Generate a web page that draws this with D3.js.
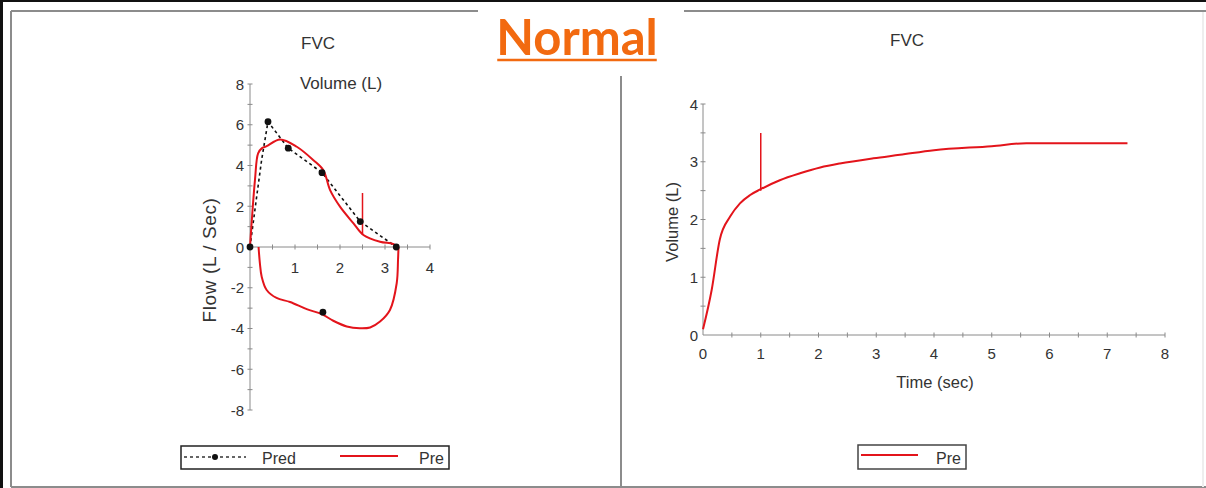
<!DOCTYPE html>
<html>
<head>
<meta charset="utf-8">
<script src="https://cdn.jsdelivr.net/npm/d3@7"></script>
<style>
  body { margin: 0; background: #fff; }
  text { font-family: "Liberation Sans", Arial, sans-serif; fill: #333; }
</style>
</head>
<body>
<div id="chart"></div>
<script>
// ---- data ----
// flow-volume loop, predicted (dotted) line
var predLineVolume = [0, 0.15, 0.26, 0.4, 0.85, 1.6, 2.45, 3.25];
var predLineFlow   = [0, 2.5, 4.3, 6.15, 4.85, 3.65, 1.25, 0];
// predicted markers (last one is the inspiratory point)
var predDotVolume = [0, 0.4, 0.85, 1.6, 2.45, 3.25, 1.62];
var predDotFlow   = [0, 6.15, 4.85, 3.65, 1.25, 0, -3.2];
// measured loop, expiratory part
var preExpVolume = [0, 0.11, 0.18, 0.26, 0.37, 0.67, 1.04, 1.41, 1.63, 1.78, 2.0, 2.3, 2.52, 2.89, 3.18, 3.3];
var preExpFlow   = [0, 3.28, 4.6, 4.84, 4.95, 5.28, 4.92, 4.26, 3.77, 2.79, 1.98, 1.16, 0.59, 0.26, 0.15, 0];
// measured loop, inspiratory part
var preInsVolume = [3.3, 3.29, 3.26, 3.11, 2.89, 2.67, 2.44, 2.15, 1.85, 1.6, 1.26, 0.89, 0.59, 0.37, 0.26, 0.22, 0.19];
var preInsFlow   = [0, -0.6, -1.78, -3.09, -3.66, -3.95, -3.99, -3.9, -3.62, -3.3, -3.05, -2.7, -2.5, -2.11, -1.46, -0.8, 0];
// FEV1 marker on the loop
var loopMarkVolume = 2.5, loopMarkFlow = [0.6, 2.65];

// volume-time curve
var timeSec  = [0, 0.15, 0.29, 0.47, 0.64, 0.81, 0.99, 1.33, 1.68, 2.03, 2.37, 2.95, 3.41, 4, 5, 5.6, 6.5, 7.35];
var volumeL  = [0.1, 0.78, 1.65, 2.05, 2.28, 2.42, 2.52, 2.68, 2.8, 2.9, 2.97, 3.06, 3.12, 3.2, 3.27, 3.32, 3.32, 3.32];
var timeMark = 1, timeMarkVolume = [2.5, 3.5];

var flowTicks = [-8, -6, -4, -2, 0, 2, 4, 6, 8];
var loopVolTicks = [1, 2, 3, 4];
var timeTicks = [0, 1, 2, 3, 4, 5, 6, 7, 8];
var volTicks = [0, 1, 2, 3, 4];

var red = "#e3141b", axisGrey = "#8a8a8a";

var svg = d3.select("#chart").append("svg")
    .attr("width", 1206).attr("height", 488);

// ---- frame ----
svg.append("rect").attr("x", 0).attr("y", 0).attr("width", 1206).attr("height", 2).attr("fill", "#111");
svg.append("rect").attr("x", 0).attr("y", 0).attr("width", 3).attr("height", 488).attr("fill", "#111");
var frame = svg.append("g").attr("stroke", "#8c8c8c").attr("stroke-width", 2).attr("fill", "none");
frame.append("line").attr("x1", 11).attr("x2", 478).attr("y1", 11).attr("y2", 11);
frame.append("line").attr("x1", 684).attr("x2", 1206).attr("y1", 11).attr("y2", 11);
frame.append("line").attr("x1", 11).attr("x2", 11).attr("y1", 11).attr("y2", 487);
frame.append("line").attr("x1", 11).attr("x2", 1206).attr("y1", 487).attr("y2", 487);
frame.append("line").attr("x1", 621).attr("x2", 621).attr("y1", 76).attr("y2", 487);
frame.append("line").attr("x1", 1203).attr("x2", 1203).attr("y1", 12).attr("y2", 487).attr("stroke", "#eee");

// title
var title = svg.append("text").attr("x", 577).attr("y", 55).attr("text-anchor", "middle")
    .style("font-family", "Lato, 'Open Sans', sans-serif").style("font-weight", "bold")
    .style("font-size", "49px").style("fill", "#f26a10").text("Normal");
var tb = title.node().getBBox();
svg.append("line").attr("x1", tb.x + 1).attr("x2", tb.x + tb.width - 1)
    .attr("y1", 60).attr("y2", 60).attr("stroke", "#f26a10").attr("stroke-width", 2.5);

// helper for a cross-style axis with minor ticks
function drawTicks(g, scale, values, orient, len) {
  values.forEach(function(v) {
    var p = scale(v);
    if (orient === "v") g.append("line").attr("x1", -len).attr("x2", len).attr("y1", p).attr("y2", p);
    else g.append("line").attr("y1", -len).attr("y2", len).attr("x1", p).attr("x2", p);
  });
}

// ---- left chart: flow-volume loop ----
var xL = d3.scaleLinear().domain([0, 4]).range([250, 430]);
var yL = d3.scaleLinear().domain([-8, 8]).range([410, 84]);

var axL = svg.append("g").attr("stroke", axisGrey).attr("stroke-width", 1);
axL.append("line").attr("x1", xL(0)).attr("x2", xL(0)).attr("y1", yL(8)).attr("y2", yL(-8));
axL.append("line").attr("x1", xL(0)).attr("x2", xL(4)).attr("y1", yL(0)).attr("y2", yL(0));
drawTicks(axL.append("g").attr("transform", "translate(" + xL(0) + ",0)"), yL, d3.range(-8, 8.1, 1), "v", 2.5);
drawTicks(axL.append("g").attr("transform", "translate(0," + yL(0) + ")"), xL, d3.range(0.5, 4.1, 0.5), "h", 2.5);

svg.append("g").selectAll("text").data(flowTicks).join("text")
    .attr("x", xL(0) - 6).attr("y", function(d) { return yL(d) + 5.5; })
    .attr("text-anchor", "end").style("font-size", "15px").text(function(d) { return d; });
svg.append("g").selectAll("text").data(loopVolTicks).join("text")
    .attr("x", function(d) { return xL(d); }).attr("y", yL(0) + 26)
    .attr("text-anchor", "middle").style("font-size", "15px").text(function(d) { return d; });

svg.append("text").attr("x", 318).attr("y", 49).attr("text-anchor", "middle").style("font-size", "17px").text("FVC");
svg.append("text").attr("x", 341).attr("y", 89).attr("text-anchor", "middle").style("font-size", "17px").text("Volume (L)");
svg.append("text").attr("transform", "translate(216,260) rotate(-90)").attr("text-anchor", "middle")
    .style("font-size", "19px").style("letter-spacing", "0.6px").text("Flow (L / Sec)");

var lineL = d3.line().x(function(d) { return xL(d[0]); }).y(function(d) { return yL(d[1]); });
svg.append("path").datum(d3.zip(predLineVolume, predLineFlow))
    .attr("d", lineL).attr("fill", "none").attr("stroke", "#111").attr("stroke-width", 1.6)
    .attr("stroke-dasharray", "3,3");
svg.append("path").datum(d3.zip(preExpVolume, preExpFlow))
    .attr("d", lineL.curve(d3.curveCatmullRom)).attr("fill", "none").attr("stroke", red).attr("stroke-width", 2);
svg.append("path").datum(d3.zip(preInsVolume, preInsFlow))
    .attr("d", lineL.curve(d3.curveCatmullRom)).attr("fill", "none").attr("stroke", red).attr("stroke-width", 2);
svg.append("line").attr("x1", xL(loopMarkVolume)).attr("x2", xL(loopMarkVolume))
    .attr("y1", yL(loopMarkFlow[0])).attr("y2", yL(loopMarkFlow[1])).attr("stroke", red).attr("stroke-width", 1.5);
svg.append("g").selectAll("circle").data(d3.zip(predDotVolume, predDotFlow)).join("circle")
    .attr("cx", function(d) { return xL(d[0]); }).attr("cy", function(d) { return yL(d[1]); })
    .attr("r", 3.4).attr("fill", "#111");

// left legend
var legL = svg.append("g");
legL.append("rect").attr("x", 181).attr("y", 446).attr("width", 268).attr("height", 23)
    .attr("fill", "#fff").attr("stroke", "#222").attr("stroke-width", 1.5);
legL.append("line").attr("x1", 184).attr("x2", 246).attr("y1", 457).attr("y2", 457)
    .attr("stroke", "#333").attr("stroke-width", 1.5).attr("stroke-dasharray", "3,3");
legL.append("circle").attr("cx", 215).attr("cy", 457).attr("r", 3).attr("fill", "#111");
legL.append("text").attr("x", 262).attr("y", 464).style("font-size", "16px").text("Pred");
legL.append("line").attr("x1", 340).attr("x2", 398).attr("y1", 456).attr("y2", 456)
    .attr("stroke", red).attr("stroke-width", 2);
legL.append("text").attr("x", 419).attr("y", 464).style("font-size", "16px").text("Pre");

// ---- right chart: volume-time ----
var xR = d3.scaleLinear().domain([0, 8]).range([703, 1165]);
var yR = d3.scaleLinear().domain([0, 4]).range([335, 104]);

var axR = svg.append("g").attr("stroke", axisGrey).attr("stroke-width", 1);
axR.append("line").attr("x1", xR(0)).attr("x2", xR(0)).attr("y1", yR(4)).attr("y2", yR(0));
axR.append("line").attr("x1", xR(0)).attr("x2", xR(8)).attr("y1", yR(0)).attr("y2", yR(0));
drawTicks(axR.append("g").attr("transform", "translate(" + xR(0) + ",0)"), yR, d3.range(0.5, 4.1, 0.5), "v", 2.5);
drawTicks(axR.append("g").attr("transform", "translate(0," + yR(0) + ")"), xR, d3.range(0.5, 8.1, 0.5), "h", 2.5);

svg.append("g").selectAll("text").data(volTicks).join("text")
    .attr("x", xR(0) - 5).attr("y", function(d) { return yR(d) + 5.5; })
    .attr("text-anchor", "end").style("font-size", "15px").text(function(d) { return d; });
svg.append("g").selectAll("text").data(timeTicks).join("text")
    .attr("x", function(d) { return xR(d); }).attr("y", yR(0) + 24)
    .attr("text-anchor", "middle").style("font-size", "15px").text(function(d) { return d; });

svg.append("text").attr("x", 907).attr("y", 46).attr("text-anchor", "middle").style("font-size", "17px").text("FVC");
svg.append("text").attr("x", 935).attr("y", 388).attr("text-anchor", "middle").style("font-size", "16.5px").text("Time (sec)");
svg.append("text").attr("transform", "translate(678,222) rotate(-90)").attr("text-anchor", "middle")
    .style("font-size", "16.5px").text("Volume (L)");

var lineR = d3.line().x(function(d) { return xR(d[0]); }).y(function(d) { return yR(d[1]); })
    .curve(d3.curveMonotoneX);
svg.append("path").datum(d3.zip(timeSec, volumeL))
    .attr("d", lineR).attr("fill", "none").attr("stroke", red).attr("stroke-width", 2);
svg.append("line").attr("x1", xR(timeMark)).attr("x2", xR(timeMark))
    .attr("y1", yR(timeMarkVolume[0])).attr("y2", yR(timeMarkVolume[1])).attr("stroke", red).attr("stroke-width", 1.5);

// right legend
var legR = svg.append("g");
legR.append("rect").attr("x", 858).attr("y", 445).attr("width", 108).attr("height", 24)
    .attr("fill", "#fff").attr("stroke", "#444").attr("stroke-width", 1.5);
legR.append("line").attr("x1", 861).attr("x2", 918).attr("y1", 455).attr("y2", 455)
    .attr("stroke", red).attr("stroke-width", 2);
legR.append("text").attr("x", 936).attr("y", 464).style("font-size", "16px").text("Pre");
</script>
</body>
</html>
